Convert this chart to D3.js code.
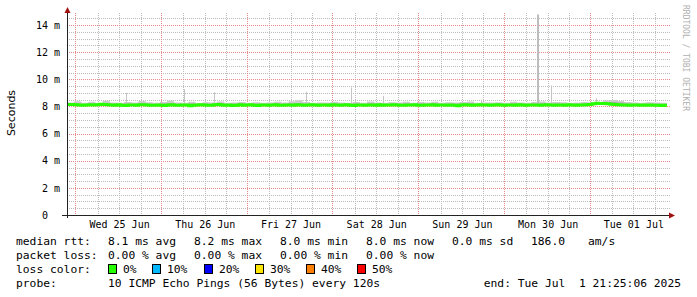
<!DOCTYPE html>
<html>
<head>
<meta charset="utf-8">
<script src="https://cdn.jsdelivr.net/npm/d3@7"></script>
<style>
  body { margin: 0; background: #fff; }
  svg { display: block; }
</style>
</head>
<body>
<svg id="chart" width="697" height="297"></svg>
<script>
// time span of the graph (7 days ending at probe end)
const startTime = Date.UTC(2025, 5, 24, 21, 25, 6);
const endTime = Date.UTC(2025, 6, 1, 21, 25, 6);

// median rtt in ms, one value per hour from start
const medianRtt = [
  8.15, 8.14, 8.12, 8.10, 8.09, 8.11, 8.13, 8.10, 8.12, 8.16, 8.15, 8.12,
  8.10, 8.09, 8.12, 8.08, 8.07, 8.10, 8.11, 8.09, 8.12, 8.13, 8.10, 8.08,
  8.09, 8.11, 8.08, 8.07, 8.10, 8.12, 8.09, 8.08, 8.11, 8.10, 8.06, 8.09,
  8.11, 8.12, 8.10, 8.08, 8.09, 8.13, 8.14, 8.11, 8.09, 8.10, 8.07, 8.09,
  8.12, 8.08, 8.10, 8.13, 8.09, 8.07, 8.10, 8.11, 8.08, 8.10, 8.12, 8.09,
  8.08, 8.11, 8.10, 8.09, 8.12, 8.10, 8.08, 8.11, 8.13, 8.10, 8.09, 8.11,
  8.10, 8.08, 8.12, 8.11, 8.09, 8.10, 8.12, 8.08, 8.07, 8.10, 8.11, 8.09,
  8.11, 8.10, 8.08, 8.12, 8.09, 8.10, 8.11, 8.13, 8.10, 8.08, 8.09, 8.11,
  8.10, 8.12, 8.09, 8.08, 8.11, 8.10, 8.12, 8.09, 8.10, 8.11, 8.08, 8.10,
  8.09, 8.06, 8.10, 8.12, 8.11, 8.09, 8.10, 8.13, 8.11, 8.10, 8.08, 8.11,
  8.12, 8.10, 8.09, 8.11, 8.10, 8.08, 8.12, 8.11, 8.09, 8.10, 8.11, 8.10,
  8.09, 8.11, 8.12, 8.10, 8.08, 8.10, 8.11, 8.09, 8.12, 8.10, 8.09, 8.11,
  8.10, 8.12, 8.14, 8.20, 8.23, 8.22, 8.21, 8.19, 8.16, 8.14, 8.12, 8.11,
  8.10, 8.09, 8.11, 8.10, 8.08, 8.10, 8.09, 8.10, 8.08, 8.09, 8.07, 8.08
];

// smoke: upper ping spread and inner band, one value per 2 hours (ms)
const smokeHi = [
  8.30, 8.38, 8.28, 8.35, 8.26, 8.42, 8.30, 8.27, 8.33, 8.29, 8.40, 8.31,
  8.27, 8.32, 8.44, 8.30, 8.28, 8.35, 8.26, 8.31, 8.29, 8.36, 8.27, 8.30,
  8.33, 8.28, 8.31, 8.27, 8.30, 8.34, 8.29, 8.38, 8.45, 8.32, 8.28, 8.30,
  8.29, 8.35, 8.30, 8.27, 8.33, 8.28, 8.36, 8.30, 8.27, 8.31, 8.29, 8.34,
  8.28, 8.32, 8.30, 8.35, 8.27, 8.31, 8.29, 8.33, 8.37, 8.28, 8.30, 8.29,
  8.31, 8.28, 8.34, 8.30, 8.27, 8.32, 8.36, 8.29, 8.33, 8.31, 8.28, 8.30,
  8.32, 8.29, 8.31, 8.45, 8.48, 8.40, 8.33, 8.30, 8.28, 8.31, 8.29, 8.27
];
const smokeMid = [
  8.20, 8.22, 8.18, 8.21, 8.19, 8.24, 8.20, 8.18, 8.22, 8.19, 8.23, 8.20,
  8.18, 8.21, 8.25, 8.19, 8.18, 8.22, 8.17, 8.20, 8.19, 8.23, 8.18, 8.20,
  8.21, 8.18, 8.20, 8.17, 8.19, 8.22, 8.19, 8.24, 8.26, 8.20, 8.18, 8.19,
  8.19, 8.22, 8.19, 8.17, 8.21, 8.18, 8.23, 8.19, 8.17, 8.20, 8.19, 8.22,
  8.18, 8.21, 8.19, 8.22, 8.17, 8.20, 8.19, 8.21, 8.24, 8.18, 8.19, 8.19,
  8.20, 8.18, 8.22, 8.19, 8.17, 8.21, 8.23, 8.19, 8.21, 8.20, 8.18, 8.19,
  8.21, 8.19, 8.20, 8.30, 8.33, 8.29, 8.22, 8.19, 8.18, 8.20, 8.19, 8.17
];

// single slow pings (hours after start, ms)
const spikeHours = [16.5, 32.8, 41.2, 66.8, 79.4, 88.5, 115.8, 131.6, 135.5, 148.1];
const spikeValues = [8.99, 9.28, 9.05, 9.08, 9.40, 8.78, 8.50, 14.78, 9.55, 8.60];

const yTicks = [0, 2, 4, 6, 8, 10, 12, 14];
const dayLabelDays = [25, 26, 27, 28, 29, 30, 31];

const statLines = [
  ["median rtt:", "8.1 ms avg", "8.2 ms max", "8.0 ms min", "8.0 ms now", "0.0 ms sd", "186.0", "am/s"],
  ["packet loss:", "0.00 % avg", "0.00 % max", "0.00 % min", "0.00 % now"]
];
const statX = [16, 108, 194, 280, 366, 452, 531, 588];
const lossLabels = ["0%", "10%", "20%", "30%", "40%", "50%"];
const lossColors = ["#26ff00", "#00b8ff", "#0000ff", "#ffe600", "#ff7f00", "#ff0000"];
const lossX = [108, 152, 204, 255, 306, 357];
const probeText = "10 ICMP Echo Pings (56 Bytes) every 120s";
const endText = "end: Tue Jul  1 21:25:06 2025";

const svg = d3.select("#chart");
const plotLeft = 67, plotRight = 667, plotTop = 15, plotBottom = 215;
const hour = 3600 * 1000;

const x = d3.scaleUtc().domain([new Date(startTime), new Date(endTime)]).range([plotLeft, plotRight]);
const y = d3.scaleLinear().domain([0, 14.74]).range([plotBottom, plotTop]);

// grid
const grid = svg.append("g").attr("shape-rendering", "crispEdges");
const minorY = d3.range(1, 30).map(i => i * 0.5).filter(v => v % 2 !== 0);
grid.selectAll(".hminor").data(minorY).enter().append("line")
  .attr("x1", plotLeft).attr("x2", 670)
  .attr("y1", d => Math.round(y(d)) + 0.5).attr("y2", d => Math.round(y(d)) + 0.5)
  .attr("stroke", "#bcbcbc").attr("stroke-dasharray", "1,1");
const sixHours = d3.utcHour.every(6).range(new Date(startTime), new Date(endTime))
  .filter(d => d.getUTCHours() !== 0);
grid.selectAll(".vminor").data(sixHours).enter().append("line")
  .attr("y1", 13).attr("y2", plotBottom)
  .attr("x1", d => Math.round(x(d)) + 0.5).attr("x2", d => Math.round(x(d)) + 0.5)
  .attr("stroke", "#bcbcbc").attr("stroke-dasharray", "1,1");
grid.selectAll(".hmajor").data(yTicks.slice(1)).enter().append("line")
  .attr("x1", plotLeft).attr("x2", 670)
  .attr("y1", d => Math.round(y(d)) + 0.5).attr("y2", d => Math.round(y(d)) + 0.5)
  .attr("stroke", "#e88a8a").attr("stroke-dasharray", "1,1");
const midnights = d3.utcDay.range(new Date(startTime), new Date(endTime));
grid.selectAll(".vmajor").data(midnights).enter().append("line")
  .attr("y1", 13).attr("y2", plotBottom)
  .attr("x1", d => Math.round(x(d)) - 0.5).attr("x2", d => Math.round(x(d)) - 0.5)
  .attr("stroke", "#e88a8a").attr("stroke-dasharray", "1,1");

// smoke
const smokePts = smokeHi.map((v, i) => ({
  t: new Date(startTime + i * 2 * hour), hi: v, mid: smokeMid[i], med: medianRtt[i * 2]
}));
smokePts.push(Object.assign({}, smokePts[smokePts.length - 1], { t: new Date(endTime) }));
svg.append("path").datum(smokePts)
  .attr("fill", "#cccccc")
  .attr("d", d3.area().curve(d3.curveStepAfter).x(d => x(d.t)).y0(d => y(d.med)).y1(d => y(d.hi)));
svg.append("path").datum(smokePts)
  .attr("fill", "#acacac")
  .attr("d", d3.area().curve(d3.curveStepAfter).x(d => x(d.t)).y0(d => y(d.med)).y1(d => y(d.mid)));

svg.selectAll(".spike").data(spikeHours).enter().append("rect")
  .attr("x", d => Math.round(x(new Date(startTime + d * hour))))
  .attr("width", (d, i) => spikeValues[i] > 12 ? 2 : 1)
  .attr("y", (d, i) => y(spikeValues[i]))
  .attr("height", (d, i) => y(8.1) - y(spikeValues[i]))
  .attr("fill", (d, i) => spikeValues[i] > 12 ? "#bdbdbd" : "#c4c4c4");

// median line, coloured by loss (0 % everywhere)
const medPts = medianRtt.map((v, i) => ({ t: new Date(startTime + i * hour), v: v }));
medPts.push({ t: new Date(endTime), v: medianRtt[medianRtt.length - 1] });
svg.append("path").datum(medPts)
  .attr("fill", "none").attr("stroke", lossColors[0]).attr("stroke-width", 3)
  .attr("d", d3.line().curve(d3.curveStepAfter).x(d => x(d.t)).y(d => y(d.v)));

// axes
const yAxis = svg.append("g")
  .attr("transform", `translate(${plotLeft},0)`)
  .call(d3.axisLeft(y).tickValues(yTicks).tickSize(0).tickPadding(7)
    .tickFormat(d => d === 0 ? "0\u00a0\u00a0" : d + " m"));
yAxis.select(".domain").remove();
yAxis.selectAll("text").attr("font-size", 10).attr("fill", "#000")
  .attr("font-family", "DejaVu Sans Mono, monospace");

const noons = dayLabelDays.map(d => new Date(Date.UTC(2025, 5, d, 12)));
const xAxis = svg.append("g")
  .attr("transform", `translate(0,${plotBottom})`)
  .call(d3.axisBottom(x).tickValues(noons).tickSize(0).tickPadding(6)
    .tickFormat(d3.utcFormat("%a %d %b")));
xAxis.select(".domain").remove();
xAxis.selectAll("text").attr("font-size", 10).attr("fill", "#000")
  .attr("font-family", "DejaVu Sans Mono, monospace");

svg.append("line").attr("x1", 62).attr("x2", 670).attr("y1", plotBottom + 0.5).attr("y2", plotBottom + 0.5)
  .attr("stroke", "#222");
svg.append("line").attr("x1", plotLeft + 0.5).attr("x2", plotLeft + 0.5).attr("y1", 218).attr("y2", 12)
  .attr("stroke", "#222");
svg.append("path").attr("d", `M${plotLeft - 2.5},13 L${plotLeft + 0.5},7 L${plotLeft + 3.5},13 Z`).attr("fill", "#a01010");
svg.append("path").attr("d", `M669,${plotBottom - 2.5} L675,${plotBottom + 0.5} L669,${plotBottom + 3.5} Z`).attr("fill", "#a01010");

svg.append("text")
  .attr("transform", "translate(15,113) rotate(-90)")
  .attr("text-anchor", "middle")
  .attr("font-family", "DejaVu Sans, sans-serif").attr("font-size", 11)
  .text("Seconds");

svg.append("text")
  .attr("transform", "translate(683,5) rotate(90)")
  .attr("font-family", "DejaVu Sans Mono, monospace").attr("font-size", 8)
  .attr("fill", "#b0b0b0")
  .text("RRDTOOL / TOBI OETIKER");

// legend
const legend = svg.append("g").attr("font-family", "DejaVu Sans Mono, monospace")
  .attr("font-size", 11.3).attr("fill", "#000");
statLines.forEach((line, r) => {
  legend.selectAll(".s" + r).data(line).enter().append("text")
    .attr("x", (d, i) => statX[i]).attr("y", 245 + r * 14)
    .text(d => d);
});
legend.append("text").attr("x", 16).attr("y", 273).text("loss color:");
legend.selectAll(".sw").data(lossColors).enter().append("rect")
  .attr("x", (d, i) => lossX[i] + 0.5).attr("y", 264.5)
  .attr("width", 8).attr("height", 9)
  .attr("fill", d => d).attr("stroke", "#000");
legend.selectAll(".sl").data(lossLabels).enter().append("text")
  .attr("x", (d, i) => lossX[i] + 15).attr("y", 273)
  .text(d => d);
legend.append("text").attr("x", 16).attr("y", 287).text("probe:");
legend.append("text").attr("x", 108).attr("y", 287).text(probeText);
legend.append("text").attr("x", 681).attr("y", 287).attr("text-anchor", "end")
  .attr("xml:space", "preserve").style("white-space", "pre").text(endText);
</script>
</body>
</html>
